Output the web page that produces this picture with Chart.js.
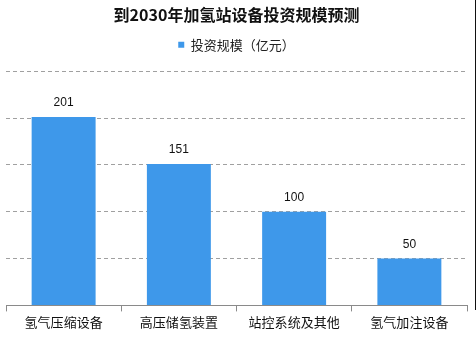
<!DOCTYPE html>
<html>
<head>
<meta charset="utf-8">
<script src="https://cdn.jsdelivr.net/npm/chart.js@4"></script>
<style>
  html, body { margin: 0; padding: 0; background: #fff; }
  #wrap { position: relative; width: 476px; height: 340px; }
  #edge { position: absolute; left: 475px; top: 0; width: 1px; height: 310px; background: #111; }
</style>
</head>
<body>
<div id="wrap">
  <canvas id="chart" width="476" height="340"></canvas>
  <div id="edge"></div>
</div>
<script>
// categories and values (亿元)
const categories = ["氢气压缩设备", "高压储氢装置", "站控系统及其他", "氢气加注设备"];
const investment = [201, 151, 100, 50];
const seriesName = "投资规模（亿元）";
const yMax = 250;
const yStep = 50;

const CJK = '"Noto Sans CJK SC", "Noto Sans", sans-serif';

// extra room under the legend before the plot starts
const legendGap = {
  id: "legendGap",
  beforeInit(chart) {
    const fit = chart.legend.fit;
    chart.legend.fit = function () {
      fit.call(this);
      this.height += 10;
    };
  },
};

// value labels above each bar
const valueLabels = {
  id: "valueLabels",
  afterDatasetsDraw(chart) {
    const { ctx } = chart;
    const meta = chart.getDatasetMeta(0);
    ctx.save();
    ctx.font = '12px "Liberation Sans", Arial, sans-serif';
    ctx.fillStyle = "#111";
    ctx.textAlign = "center";
    ctx.textBaseline = "middle";
    meta.data.forEach((bar, i) => {
      ctx.fillText(String(investment[i]), bar.x, bar.y - 14);
    });
    ctx.restore();
  },
};

new Chart(document.getElementById("chart"), {
  type: "bar",
  data: {
    labels: categories,
    datasets: [
      {
        label: seriesName,
        data: investment,
        backgroundColor: "#3e98ea",
        categoryPercentage: 1,
        barPercentage: 0.555,
      },
    ],
  },
  options: {
    responsive: false,
    animation: false,
    layout: { padding: { left: 6, right: 9, top: 0, bottom: 7 } },
    plugins: {
      title: {
        display: true,
        text: "到2030年加氢站设备投资规模预测",
        color: "#111",
        font: { family: CJK, size: 16, weight: "bold" },
        padding: { top: 5, bottom: 4 },
      },
      legend: {
        display: true,
        labels: {
          boxWidth: 6,
          boxHeight: 6,
          color: "#222",
          font: { family: CJK, size: 13 },
          padding: 10,
        },
      },
      tooltip: { enabled: false },
    },
    scales: {
      x: {
        grid: {
          display: true,
          offset: true,
          drawOnChartArea: false,
          drawTicks: true,
          tickLength: 6,
          color: "#8a8a8a",
        },
        border: { display: true, color: "#8a8a8a" },
        ticks: {
          color: "#111",
          font: { family: CJK, size: 13 },
          padding: 3,
          maxRotation: 0,
        },
      },
      y: {
        min: 0,
        max: yMax,
        ticks: { display: false, stepSize: yStep },
        border: { display: false, dash: [4, 3] },
        grid: {
          drawTicks: false,
          color: (c) => (c.tick.value === 0 ? "rgba(0,0,0,0)" : "#a0a0a0"),
        },
      },
    },
  },
  plugins: [legendGap, valueLabels],
});
</script>
</body>
</html>
